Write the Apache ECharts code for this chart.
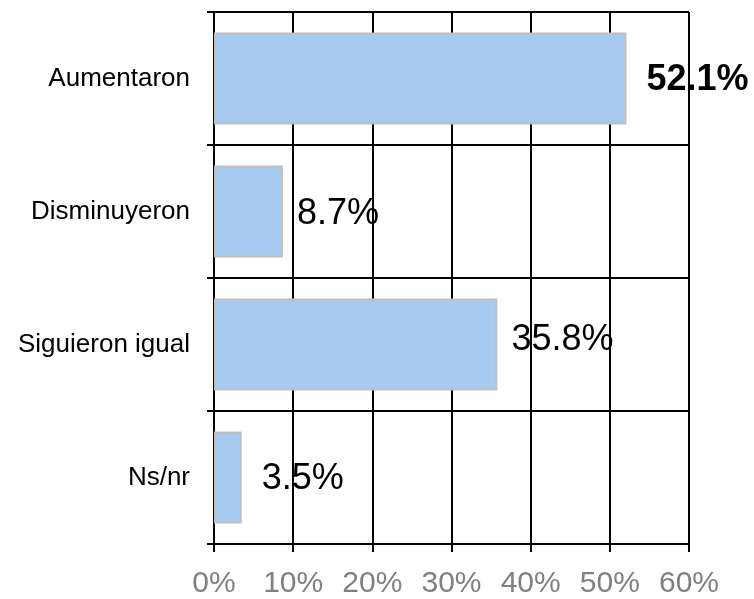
<!DOCTYPE html>
<html><head><meta charset="utf-8">
<script src="https://cdn.jsdelivr.net/npm/echarts@6/dist/echarts.min.js"></script>
<style>html,body{margin:0;padding:0;background:#fff}#c{width:754px;height:599px}</style>
</head><body><div id="c"></div>
<script>
var categories = ['Aumentaron', 'Disminuyeron', 'Siguieron igual', 'Ns/nr'];
var values = [52.1, 8.7, 35.8, 3.5];
var valueLabels = ['52.1%', '8.7%', '35.8%', '3.5%'];
var boldFlags = [true, false, false, false];
var xTicks = [0, 10, 20, 30, 40, 50, 60];

var labelGap = [20, 14, 14, 20];
var labelShift = [2, 3, -4, 2];
var font = 'Liberation Sans';
var chart = echarts.init(document.getElementById('c'), null, {renderer: 'canvas'});
chart.setOption({
  animation: false,
  grid: {left: 214, right: 65, top: 12, bottom: 54, containLabel: false},
  xAxis: {
    type: 'value', min: xTicks[0], max: xTicks[xTicks.length - 1], interval: 10,
    axisLine: {show: true, lineStyle: {color: '#000', width: 2}},
    axisTick: {show: true, length: 8, lineStyle: {color: '#000', width: 2}},
    splitLine: {show: true, lineStyle: {color: '#000', width: 2}},
    axisLabel: {formatter: '{value}%', color: '#808080', fontSize: 30, fontFamily: font, margin: 25}
  },
  yAxis: {
    type: 'category', data: categories, inverse: true,
    axisLine: {show: true, lineStyle: {color: '#000', width: 2}},
    axisTick: {show: true, length: 7, lineStyle: {color: '#000', width: 2}},
    splitLine: {show: true, lineStyle: {color: '#000', width: 2}},
    axisLabel: {color: '#000', fontSize: 26, fontFamily: font, margin: 24}
  },
  series: [
    {
      type: 'bar', z: 2, barCategoryGap: '31%',
      data: values,
      itemStyle: {color: '#a6caf0', borderColor: '#c0c0c0', borderWidth: 2},
      label: {show: false}
    },
    {
      type: 'bar', z: -1, barGap: '-100%', barCategoryGap: '31%',
      silent: true,
      data: values.map(function (v, i) {
        return {
          value: v,
          label: {
            show: true, position: 'right', distance: labelGap[i], offset: [0, labelShift[i]],
            formatter: valueLabels[i], color: '#000', fontSize: 36, fontFamily: font,
            fontWeight: boldFlags[i] ? 'bold' : 'normal'
          }
        };
      }),
      itemStyle: {color: 'rgba(0,0,0,0)'}
    }
  ]
});
</script></body></html>
